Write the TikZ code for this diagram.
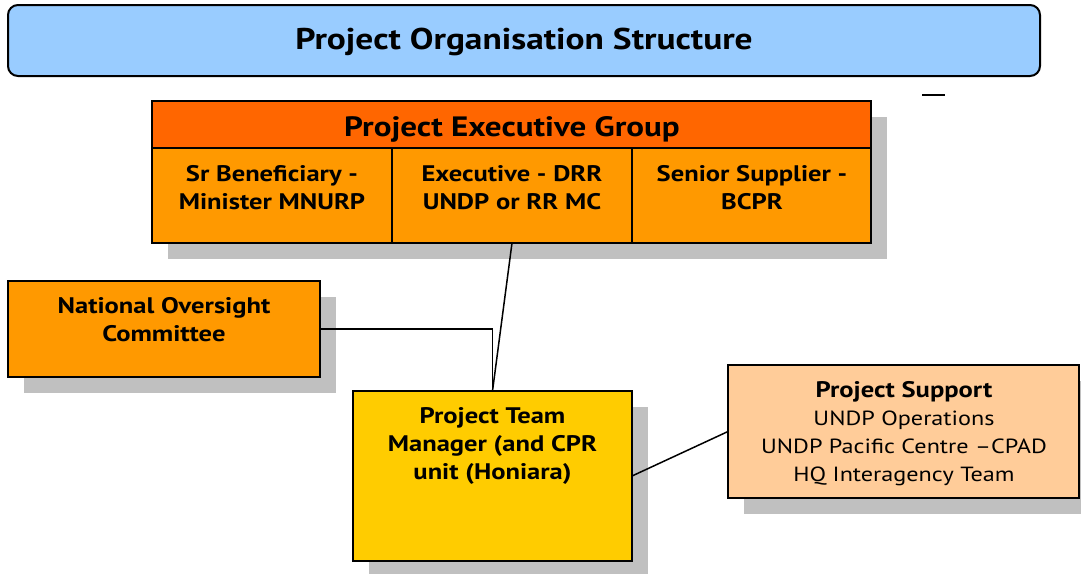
\documentclass[tikz,border=0pt]{standalone}
\usepackage{fontspec}
\setmainfont{PT Sans}[FakeStretch=1.18]
\usetikzlibrary{shadows}
\definecolor{titleblue}{HTML}{99CCFF}
\definecolor{headorange}{HTML}{FF6600}
\definecolor{cellorange}{HTML}{FF9900}
\definecolor{teamyellow}{HTML}{FFCC00}
\definecolor{supportpeach}{HTML}{FFCC99}
\definecolor{shadowgray}{HTML}{C0C0C0}
\begin{document}
\begin{tikzpicture}[x=1pt,y=-1pt,
  box/.style={draw=black, line width=2pt, inner sep=0pt, outer sep=0pt, rectangle},
  boxshadow/.style={general shadow={fill=shadowgray, draw=none, shadow xshift=16pt, shadow yshift=-16pt}},
  label/.style={align=center, inner sep=0pt, font=\bfseries\fontsize{22.5}{28}\selectfont},
  plain/.style={align=center, inner sep=0pt, font=\fontsize{20.5}{28}\selectfont},
  link/.style={draw=black, line width=1.5pt}]
\useasboundingbox (0,0) rectangle (1081,573);

% title banner
\node[box, fill=titleblue, rounded corners=10pt, minimum width=1032pt, minimum height=71pt] (title) at (524,40.5) {};
\node[label, font=\bfseries\fontsize{30}{34}\selectfont] (titletext) at (524,41.5) {Project Organisation Structure};

% stray dash
\coordinate (dashL) at (922,95);
\coordinate (dashR) at (945,95);
\draw[line width=2pt] (dashL) -- (dashR);

% executive group
\node[box, boxshadow, fill=cellorange, minimum width=719pt, minimum height=142pt] (exec) at (511.5,172) {};
\node[box, fill=headorange, minimum width=719pt, minimum height=47pt] (head) at (511.5,124.5) {};
\node[label, font=\bfseries\fontsize{28}{32}\selectfont] (headtext) at (512,129) {Project Executive Group};
\node[box, fill=cellorange, minimum width=240pt, minimum height=95pt] (cellA) at (272,195.5) {};
\node[box, fill=cellorange, minimum width=240pt, minimum height=95pt] (cellB) at (512,195.5) {};
\node[box, fill=cellorange, minimum width=239pt, minimum height=95pt] (cellC) at (751.5,195.5) {};
\node[label] (cellAtext) at (272,188) {Sr Beneficiary -\\Minister MNURP};
\node[label] (cellBtext) at (512,188) {Executive - DRR\\UNDP or RR MC};
\node[label] (cellCtext) at (752,188) {Senior Supplier -\\BCPR};

% national oversight committee
\node[box, boxshadow, fill=cellorange, minimum width=312pt, minimum height=96pt] (noc) at (164,329) {};
\node[label] (noctext) at (164,320) {National Oversight\\Committee};

% project team manager
\node[box, boxshadow, fill=teamyellow, minimum width=279pt, minimum height=170pt] (ptm) at (492.5,476) {};
\node[label] (ptmtext) at (492.5,446) {Project Team\\Manager (and CPR\\unit (Honiara)};

% project support
\node[box, boxshadow, fill=supportpeach, minimum width=351pt, minimum height=133pt] (support) at (903.5,431.5) {};
\node[plain] (supporttext) at (904,433.5) {{\bfseries\fontsize{22.5}{28}\selectfont Project Support}\\UNDP Operations\\UNDP Pacific Centre –CPAD\\HQ Interagency Team};

% connectors
\draw[link] (cellB.south) -- (ptm.north);
\draw[link] (noc.east) -| (ptm.north);
\draw[link] (ptm.east) -- (support.west);
\end{tikzpicture}
\end{document}
